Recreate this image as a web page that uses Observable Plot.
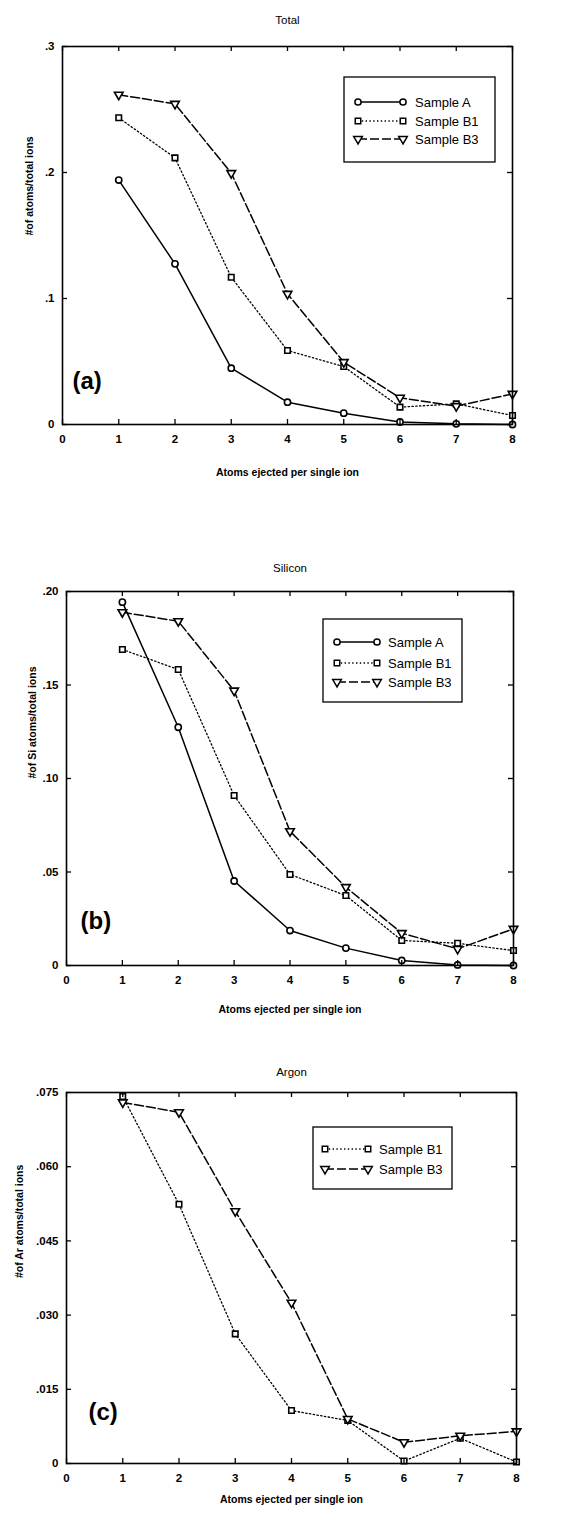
<!DOCTYPE html>
<html><head><meta charset="utf-8">
<script src="https://cdn.jsdelivr.net/npm/d3@7"></script>
<script src="https://cdn.jsdelivr.net/npm/@observablehq/plot@0.6"></script>
<style>
body{margin:0;background:#fff;}
#root{position:relative;width:571px;height:1517px;font-family:"Liberation Sans",Arial,sans-serif;overflow:hidden;}
#root > svg{display:block;}
.legend{position:absolute;}
</style></head><body><div id="root"></div>
<script>
// ---------- data ----------
const xValues = [1, 2, 3, 4, 5, 6, 7, 8];
const xTicks = [0, 1, 2, 3, 4, 5, 6, 7, 8];
const seriesNames = ["Sample A", "Sample B1", "Sample B3"];

const totalA  = [0.194, 0.1275, 0.0447, 0.0177, 0.009, 0.002, 0.0005, 0];
const totalB1 = [0.2434, 0.2116, 0.1169, 0.0587, 0.046, 0.0138, 0.0164, 0.0071];
const totalB3 = [0.2617, 0.2545, 0.1995, 0.1037, 0.0495, 0.0212, 0.0146, 0.0243];
const totalYTicks = [0, 0.1, 0.2, 0.3];
const totalYLabels = ["0", ".1", ".2", ".3"];

const siA  = [0.1943, 0.1274, 0.0452, 0.0187, 0.0093, 0.0027, 0.0003, 0];
const siB1 = [0.169, 0.1583, 0.0909, 0.0487, 0.0374, 0.0134, 0.0119, 0.008];
const siB3 = [0.1889, 0.1841, 0.147, 0.0718, 0.0419, 0.0173, 0.0089, 0.0196];
const siYTicks = [0, 0.05, 0.10, 0.15, 0.20];
const siYLabels = ["0", ".05", ".10", ".15", ".20"];

const arB1 = [0.0742, 0.0524, 0.0262, 0.0107, 0.0087, 0.0005, 0.0051, 0.0003];
const arB3 = [0.073, 0.071, 0.051, 0.0325, 0.009, 0.0043, 0.0056, 0.0065];
const arYTicks = [0, 0.015, 0.030, 0.045, 0.060, 0.075];
const arYLabels = ["0", ".015", ".030", ".045", ".060", ".075"];

const titles = ["Total", "Silicon", "Argon"];
const yAxisLabels = ["#of atoms/total ions", "#of Si atoms/total ions", "#of Ar atoms/total ions"];
const xAxisLabel = "Atoms ejected per single ion";
const panelTags = ["(a)", "(b)", "(c)"];

// ---------- styles ----------
const triangleDown = {
  draw(ctx, size) {
    const y = Math.sqrt(size / (Math.sqrt(3) * 3));
    ctx.moveTo(0, 2 * y);
    ctx.lineTo(-Math.sqrt(3) * y, -y);
    ctx.lineTo(Math.sqrt(3) * y, -y);
    ctx.closePath();
  }
};
const styleOf = {
  "Sample A":  {dash: null, symbol: "circle", r: 3.1, sw: 1.5},
  "Sample B1": {dash: "1.4,2.4", symbol: "square", r: 3.1, sw: 1.3},
  "Sample B3": {dash: "9,3", symbol: triangleDown, r: 3.2, sw: 1.5}
};

const FONT = '"Liberation Sans", Arial, sans-serif';
const TICK = 5;

function makePanel(cfg) {
  const rows = [];
  cfg.series.forEach(s => s.values.forEach((v, i) => rows.push({x: xValues[i], y: v, series: s.name})));
  const labelOf = new Map(cfg.yTicks.map((t, i) => [t, cfg.yLabels[i]]));
  const innerH = cfg.height - cfg.mt - cfg.mb;
  const innerW = 571 - cfg.ml - cfg.mr;
  const marks = [];
  for (const s of cfg.series) {
    const st = styleOf[s.name];
    const d = rows.filter(r => r.series === s.name);
    marks.push(Plot.line(d, {x: "x", y: "y", stroke: "black", strokeWidth: st.sw, strokeDasharray: st.dash}));
  }
  for (const s of cfg.series) {
    const st = styleOf[s.name];
    const d = rows.filter(r => r.series === s.name);
    marks.push(Plot.dot(d, {x: "x", y: "y", symbol: st.symbol, r: st.r, stroke: "black", strokeWidth: 1.6, fill: "white"}));
  }
  marks.push(
    // inward ticks on all four sides
    Plot.tickX(xTicks, {x: d => d, insetTop: innerH - TICK, stroke: "black", strokeWidth: 1.3}),
    Plot.tickX(xTicks, {x: d => d, insetBottom: innerH - TICK, stroke: "black", strokeWidth: 1.3}),
    Plot.tickY(cfg.yTicks, {y: d => d, insetRight: innerW - TICK, stroke: "black", strokeWidth: 1.3}),
    Plot.tickY(cfg.yTicks, {y: d => d, insetLeft: innerW - TICK, stroke: "black", strokeWidth: 1.3}),
    Plot.frame({stroke: "black", strokeWidth: 1.6}),
    Plot.axisX({anchor: "bottom", ticks: xTicks, tickSize: 0, tickPadding: 10, tickFormat: d => String(d), fontWeight: "bold", fontSize: 11.5, label: null}),
    Plot.axisY({anchor: "left", ticks: cfg.yTicks, tickSize: 0, tickPadding: 8, tickFormat: d => labelOf.get(d), fontWeight: "bold", fontSize: 11.5, label: null}),
    Plot.text([cfg.title], {frameAnchor: "top", dy: cfg.titleDy, fontSize: 11.5, fill: "black"}),
    Plot.text([xAxisLabel], {frameAnchor: "bottom", dy: cfg.xLabelDy, fontSize: 10.5, fontWeight: "bold", fill: "black"}),
    Plot.text([cfg.yLabel], {frameAnchor: "left", dx: cfg.yLabelDx, rotate: -90, fontSize: 10.5, fontWeight: "bold", fill: "black"}),
    Plot.text([cfg.tag], {frameAnchor: "bottom-left", textAnchor: "start", dx: cfg.tagDx, dy: cfg.tagDy, fontSize: 24, fontWeight: "bold", fill: "black"})
  );
  return Plot.plot({
    width: 571, height: cfg.height,
    marginTop: cfg.mt, marginBottom: cfg.mb, marginLeft: cfg.ml, marginRight: cfg.mr,
    style: {fontFamily: FONT, background: "white", color: "black", overflow: "visible"},
    x: {domain: [0, 8]},
    y: {domain: [cfg.yTicks[0], cfg.yTicks[cfg.yTicks.length - 1]]},
    marks
  });
}

function makeLegend(cfg) {
  const L = cfg.legend;
  const svg = d3.create("svg").attr("width", L.w + 2).attr("height", L.h + 2)
    .attr("class", "legend").style("left", (L.left - 1) + "px").style("top", (L.top - 1) + "px");
  svg.append("rect").attr("x", 1).attr("y", 1).attr("width", L.w).attr("height", L.h)
    .attr("fill", "white").attr("stroke", "black").attr("stroke-width", 1.3);
  cfg.series.forEach((s, i) => {
    const st = styleOf[s.name];
    const y = 1 + L.rows[i];
    const g = svg.append("g");
    g.append("line").attr("x1", 1 + L.s1).attr("x2", 1 + L.s2).attr("y1", y).attr("y2", y)
      .attr("stroke", "black").attr("stroke-width", st.sw).attr("stroke-dasharray", st.dash);
    const type = st.symbol === "circle" ? d3.symbolCircle : st.symbol === "square" ? d3.symbolSquare : st.symbol;
    const path = d3.symbol(type, st.r * st.r * Math.PI)();
    [L.s1, L.s2].forEach(sx => g.append("path").attr("d", path).attr("transform", `translate(${1 + sx},${y})`)
      .attr("fill", "white").attr("stroke", "black").attr("stroke-width", 1.5));
    g.append("text").attr("x", 1 + L.tx).attr("y", y).attr("dy", "0.35em")
      .attr("font-family", FONT).attr("font-size", 13).attr("fill", "black").text(s.name);
  });
  return svg.node();
}

const panels = [
  {title: titles[0], yLabel: yAxisLabels[0], tag: panelTags[0],
   series: [{name: seriesNames[0], values: totalA}, {name: seriesNames[1], values: totalB1}, {name: seriesNames[2], values: totalB3}],
   yTicks: totalYTicks, yLabels: totalYLabels,
   height: 490, mt: 46, mb: 66, ml: 62, mr: 59,
   titleDy: -31, xLabelDy: 51, yLabelDx: -33, tagDx: 10, tagDy: -36,
   legend: {left: 344, top: 77, w: 151, h: 85, rows: [25, 44, 62], s1: 14, s2: 59, tx: 71}},
  {title: titles[1], yLabel: yAxisLabels[1], tag: panelTags[1],
   series: [{name: seriesNames[0], values: siA}, {name: seriesNames[1], values: siB1}, {name: seriesNames[2], values: siB3}],
   yTicks: siYTicks, yLabels: siYLabels,
   height: 540, mt: 101, mb: 65, ml: 66, mr: 58,
   titleDy: -28, xLabelDy: 47, yLabelDx: -34, tagDx: 14, tagDy: -37,
   legend: {left: 323, top: 619, w: 139, h: 83, rows: [23, 44, 63], s1: 14, s2: 54, tx: 65}},
  {title: titles[2], yLabel: yAxisLabels[2], tag: panelTags[2],
   series: [{name: seriesNames[1], values: arB1}, {name: seriesNames[2], values: arB3}],
   yTicks: arYTicks, yLabels: arYLabels,
   height: 487, mt: 62, mb: 54, ml: 66, mr: 55,
   titleDy: -25, xLabelDy: 39, yLabelDx: -47, tagDx: 22, tagDy: -44,
   legend: {left: 313, top: 1127, w: 139, h: 62, rows: [22, 42], s1: 12, s2: 55, tx: 66}}
];

const root = document.getElementById("root");
for (const p of panels) root.appendChild(makePanel(p));
for (const p of panels) root.appendChild(makeLegend(p));
</script>
</body></html>
